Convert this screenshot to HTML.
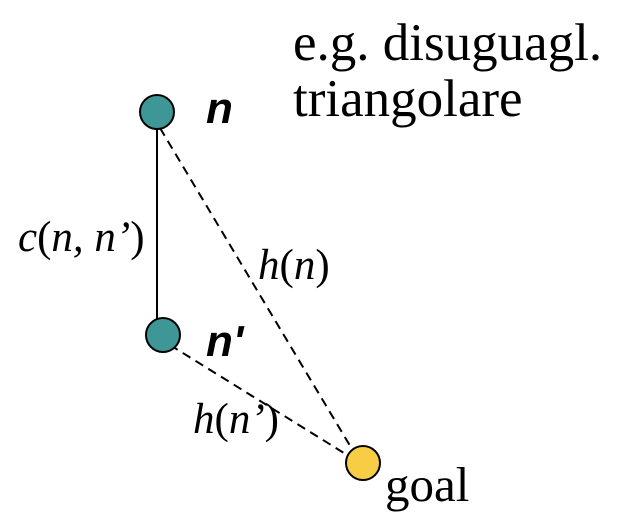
<!DOCTYPE html>
<html><head><meta charset="utf-8"><style>
html,body{margin:0;padding:0;background:#fff;}
svg{display:block;}
</style></head><body>
<svg width="624" height="532" viewBox="0 0 624 532">
<line x1="157" y1="128" x2="157" y2="319" stroke="#000" stroke-width="2"/>
<line x1="160" y1="128" x2="352" y2="449" stroke="#000" stroke-width="2" stroke-dasharray="9,6"/>
<line x1="170" y1="345" x2="352" y2="458" stroke="#000" stroke-width="2" stroke-dasharray="9,6"/>
<circle cx="157" cy="112" r="17" fill="#3e9696" stroke="#000" stroke-width="2"/>
<circle cx="163" cy="335" r="17" fill="#3e9696" stroke="#000" stroke-width="2"/>
<circle cx="363" cy="463" r="17" fill="#f6cd45" stroke="#000" stroke-width="2"/>
<g font-family="Liberation Serif, serif" fill="#000">
<text x="293" y="60" font-size="53">e.g. disuguagl.</text>
<text x="293" y="116" font-size="53">triangolare</text>
<text x="18" y="251" font-size="43"><tspan font-style="italic">c</tspan>(<tspan font-style="italic">n, n’</tspan>)</text>
<text x="258" y="279" font-size="43"><tspan font-style="italic">h</tspan>(<tspan font-style="italic">n</tspan>)</text>
<text x="193" y="433" font-size="43"><tspan font-style="italic">h</tspan>(<tspan font-style="italic">n’</tspan>)</text>
<text x="385" y="501" font-size="49">goal</text>
</g>
<g font-family="Liberation Sans, sans-serif" font-weight="bold" font-style="italic" fill="#000">
<text x="206" y="123" font-size="44">n</text>
<text x="206" y="356" font-size="44">n'</text>
</g>
</svg>
</body></html>
